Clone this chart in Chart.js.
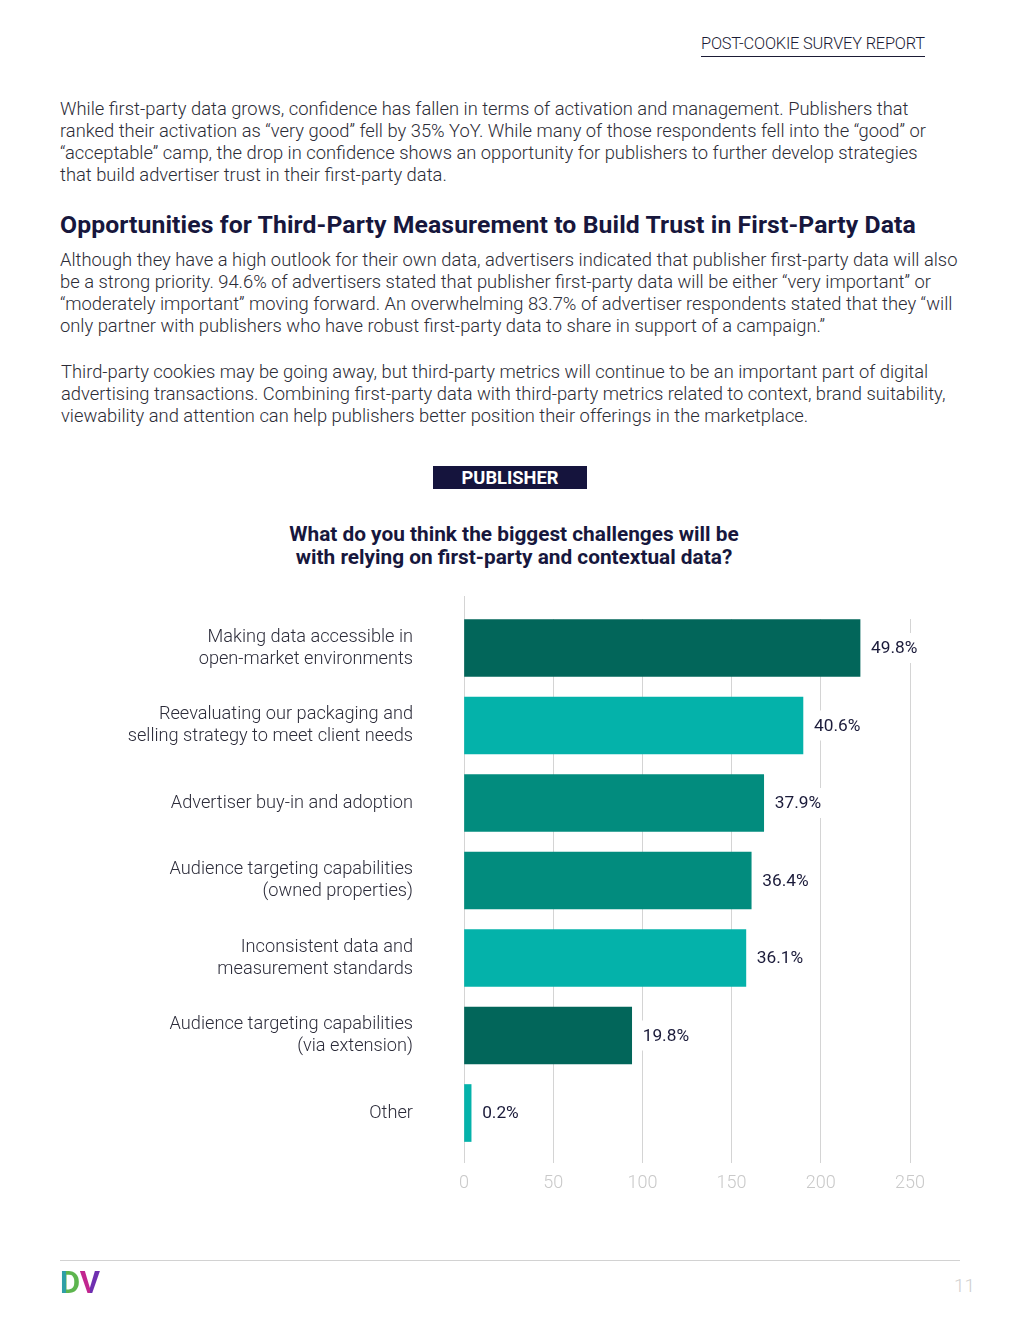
<!DOCTYPE html>
<html>
<head>
<meta charset="utf-8">
<script src="https://cdn.jsdelivr.net/npm/chart.js@4.4.1/dist/chart.umd.min.js"></script>
<style>
    body { margin: 0; background: #fff; font-family: Roboto, "Open Sans", sans-serif; }
    .page { position: relative; width: 1020px; height: 1320px; overflow: hidden; }
    .abs { position: absolute; white-space: nowrap; }
    .header { left: 701px; top: 33px; font-size: 16.4px; font-weight: 300; color: #1b1b35; line-height: 22px; border-bottom: 1.5px solid #1b1b35; padding-bottom: 1px; letter-spacing: -0.2px; }
    .para { left: 60px; font-size: 18.35px; font-weight: 300; color: #2c2c36; line-height: 22px; }
    .heading { left: 60px; top: 211px; font-size: 24.75px; font-weight: 700; color: #17173d; line-height: 28px; letter-spacing: 0.1px; }
    .tag { left: 433px; top: 466px; width: 154px; height: 23px; background: #15143d; color: #fff; font-weight: 700; font-size: 18.3px; line-height: 23px; text-align: center; }
    .title { left: 214px; width: 600px; top: 523px; text-align: center; font-size: 20.8px; font-weight: 700; color: #17173d; line-height: 23px; }
    .rule { left: 60px; top: 1260px; width: 900px; height: 1px; background: #d2d2d2; }
    .logo { left: 60px; top: 1266px; font-size: 31px; font-weight: 700; line-height: 34px; }
    .logo span { -webkit-background-clip: text; background-clip: text; color: transparent; }
    .logo .d { background-image: linear-gradient(90deg, #2f9fa6 0%, #2f9fa6 30%, #5db54e 31%, #5db54e 100%); }
    .logo .v { background-image: linear-gradient(90deg, #c1268f 0%, #c1268f 50%, #6e2fb0 51%, #6e2fb0 100%); }
    .pnum { left: 954px; top: 1274px; font-size: 19px; font-weight: 300; color: #cfcfcf; line-height: 24px; }
    #chart { position: absolute; left: 60px; top: 580px; }
</style>
</head>
<body>
<div class="page">
    <div class="abs header">POST-COOKIE SURVEY REPORT</div>

    <div class="abs para" style="top:98px">While first-party data grows, confidence has fallen in terms of activation and management. Publishers that<br>ranked their activation as “very good” fell by 35% YoY. While many of those respondents fell into the “good” or<br>“acceptable” camp, the drop in confidence shows an opportunity for publishers to further develop strategies<br>that build advertiser trust in their first-party data.</div>

    <div class="abs heading">Opportunities for Third-Party Measurement to Build Trust in First-Party Data</div>

    <div class="abs para" style="top:249px">Although they have a high outlook for their own data, advertisers indicated that publisher first-party data will also<br>be a strong priority. 94.6% of advertisers stated that publisher first-party data will be either “very important” or<br>“moderately important” moving forward. An overwhelming 83.7% of advertiser respondents stated that they “will<br>only partner with publishers who have robust first-party data to share in support of a campaign.”</div>

    <div class="abs para" style="top:361px;left:61px">Third-party cookies may be going away, but third-party metrics will continue to be an important part of digital<br>advertising transactions. Combining first-party data with third-party metrics related to context, brand suitability,<br>viewability and attention can help publishers better position their offerings in the marketplace.</div>

    <div class="abs tag">PUBLISHER</div>
    <div class="abs title">What do you think the biggest challenges will be<br>with relying on first-party and contextual data?</div>

    <canvas id="chart" width="900" height="640" style="width:900px;height:640px"></canvas>

    <div class="abs rule"></div>
    <div class="abs logo"><span class="d">D</span><span class="v">V</span></div>
    <div class="abs pnum">11</div>
</div>

<script>
const categories = [
    ["Making data accessible in", "open-market environments"],
    ["Reevaluating our packaging and", "selling strategy to meet client needs"],
    "Advertiser buy-in and adoption",
    ["Audience targeting capabilities", "(owned properties)"],
    ["Inconsistent data and", "measurement standards"],
    ["Audience targeting capabilities", "(via extension)"],
    "Other"
];
const barValues = [222, 190, 168, 161, 158, 94, 4];
const percentLabels = ["49.8%", "40.6%", "37.9%", "36.4%", "36.1%", "19.8%", "0.2%"];
const xTicks = [0, 50, 100, 150, 200, 250];

const DARK = "#02665a",
    MID = "#028c7e",
    LIGHT = "#04b2aa",
    GRID = "#d4d4d4";
const barColors = [DARK, LIGHT, MID, MID, LIGHT, DARK, LIGHT];

const axisExtend = {
    id: "axisExtend",
    beforeDatasetsDraw(chart) {
        const { ctx, chartArea, scales } = chart;
        const x0 = Math.round(scales.x.getPixelForValue(0)) + 0.5;
        ctx.save();
        ctx.strokeStyle = GRID;
        ctx.lineWidth = 1;
        ctx.beginPath();
        ctx.moveTo(x0, chartArea.top - 23);
        ctx.lineTo(x0, chartArea.top);
        ctx.stroke();
        ctx.restore();
    }
};

const valueLabels = {
    id: "valueLabels",
    afterDatasetsDraw(chart) {
        const ctx = chart.ctx;
        ctx.save();
        ctx.font = "400 17.3px Roboto";
        ctx.textBaseline = "middle";
        chart.getDatasetMeta(0).data.forEach((bar, i) => {
            const text = percentLabels[i];
            const w = ctx.measureText(text).width;
            const x = bar.x + 11;
            ctx.fillStyle = "#fff";
            ctx.fillRect(x - 3, bar.y - 15, w + 6, 30);
            ctx.fillStyle = "#1b1b3a";
            ctx.fillText(text, x, bar.y + 1);
        });
        ctx.restore();
    }
};

new Chart(document.getElementById("chart"), {
    type: "bar",
    data: {
        datasets: [{
            data: barValues.map((v, i) => ({ x: v, y: i })),
            backgroundColor: barColors,
            borderWidth: 0,
            barThickness: 57,
        }]
    },
    options: {
        indexAxis: "y",
        responsive: false,
        animation: false,
        layout: { padding: { top: 39, right: 50, bottom: 17, left: 0 } },
        plugins: {
            legend: { display: false },
            tooltip: { enabled: false },
        },
        scales: {
            x: {
                type: "linear",
                min: 0,
                max: 250,
                afterBuildTicks: scale => {
                    scale.ticks = xTicks.map(v => ({ value: v }));
                },
                afterFit: scale => {
                    scale.height = 40;
                    scale.paddingLeft = 0;
                    scale.paddingRight = 0;
                },
                grid: { color: GRID, lineWidth: 1, drawTicks: false },
                border: { display: false },
                ticks: {
                    color: "#c9c9c9",
                    padding: 10,
                    font: { family: "Roboto", size: 18, weight: 300 },
                }
            },
            y: {
                type: "linear",
                reverse: true,
                offset: false,
                min: -0.374,
                max: 6.645,
                afterBuildTicks: scale => {
                    scale.ticks = categories.map((c, i) => ({ value: i }));
                },
                afterFit: scale => {
                    scale.width = 404;
                    scale.paddingTop = 0;
                    scale.paddingBottom = 0;
                },
                grid: { display: false, drawTicks: false, offset: false },
                border: { display: false },
                ticks: {
                    autoSkip: false,
                    padding: 51,
                    color: "#2c2c3a",
                    font: { family: "Roboto", size: 18.2, weight: 300, lineHeight: 1.21 },
                    callback: v => categories[v],
                }
            }
        }
    },
    plugins: [axisExtend, valueLabels]
});
</script>
</body>
</html>
